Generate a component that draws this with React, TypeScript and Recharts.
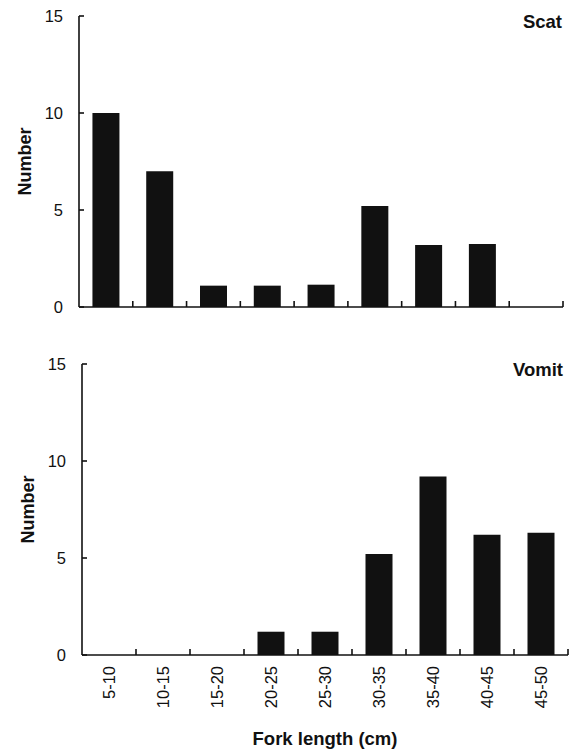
import React from 'react';
import { BarChart, Bar, XAxis, YAxis, Label } from 'recharts';

const categories = ['5-10', '10-15', '15-20', '20-25', '25-30', '30-35', '35-40', '40-45', '45-50'];
const scatCounts = [10, 7, 1.1, 1.1, 1.15, 5.2, 3.2, 3.25, 0];
const vomitCounts = [0, 0, 0, 1.2, 1.2, 5.2, 9.2, 6.2, 6.3];
const yTicks = [0, 5, 10, 15];

const INK = '#111';
const FONT = '"Liberation Sans", Arial, Helvetica, sans-serif';

const scatData = categories.map((name, i) => ({ name, value: scatCounts[i] }));
const vomitData = categories.map((name, i) => ({ name, value: vomitCounts[i] }));

// y ticks: short mark pointing into the plot, label to the left
const YTick = (props: any) => {
    const { x, y, payload } = props;
    return (
        <g>
            <line x1={x} x2={x + 5} y1={y} y2={y} stroke={INK} strokeWidth={1.6} />
            <text x={x - 16} y={y} dy="0.36em" textAnchor="end" fontSize={16.5} fontFamily={FONT} fill={INK}>
                {payload.value}
            </text>
        </g>
    );
};

// x ticks: mark on the boundary after each category, optional rotated label
const makeXTick = (showLabel: boolean) => (props: any) => {
    const { x, y, payload } = props;
    const half = payload && payload.offset ? payload.offset : 27;
    const ly = y + 11;
    return (
        <g>
            <line x1={x + half} x2={x + half} y1={y} y2={y - 6} stroke={INK} strokeWidth={1.6} />
            {showLabel && (
                <text
                    x={x}
                    y={ly}
                    dy="0.36em"
                    textAnchor="end"
                    transform={`rotate(-90, ${x}, ${ly})`}
                    fontSize={16.5}
                    fontFamily={FONT}
                    fill={INK}
                >
                    {payload.value}
                </text>
            )}
        </g>
    );
};

const NumberLabel = (props: any) => {
    const vb = props.viewBox || { x: 0, y: 0, height: 0 };
    const cx = vb.x + 6;
    const cy = vb.y + vb.height / 2;
    return (
        <text
            x={cx}
            y={cy}
            transform={`rotate(-90, ${cx}, ${cy})`}
            textAnchor="middle"
            dominantBaseline="central"
            fontSize={18}
            fontWeight="bold"
            fontFamily={FONT}
            fill={INK}
        >
            Number
        </text>
    );
};

const App: React.FC = () => {
    return (
        <div style={{ position: 'absolute', left: 0, top: 0, width: 572, height: 754, background: '#fff' }}>
            <div style={{ position: 'absolute', left: 0, top: 0 }}>
                <BarChart
                    width={572}
                    height={320}
                    data={scatData}
                    margin={{ top: 16, right: 9, left: 19, bottom: 0 }}
                    barCategoryGap="25%"
                >
                    <XAxis
                        dataKey="name"
                        height={13}
                        tickSize={0}
                        tickMargin={0}
                        tickLine={false}
                        axisLine={{ stroke: INK, strokeWidth: 1.6 }}
                        interval={0}
                        tick={makeXTick(false)}
                    />
                    <YAxis
                        width={60}
                        type="number"
                        domain={[0, 15]}
                        ticks={yTicks}
                        tickSize={0}
                        tickMargin={0}
                        tickLine={false}
                        axisLine={{ stroke: INK, strokeWidth: 1.6 }}
                        tick={YTick}
                    >
                        <Label content={NumberLabel} />
                    </YAxis>
                    <Bar dataKey="value" fill={INK} isAnimationActive={false} />
                    <text x={562} y={28} textAnchor="end" fontSize={18.5} fontWeight="bold" fontFamily={FONT} fill={INK}>
                        Scat
                    </text>
                </BarChart>
            </div>
            <div style={{ position: 'absolute', left: 0, top: 330 }}>
                <BarChart
                    width={572}
                    height={424}
                    data={vomitData}
                    margin={{ top: 34, right: 4, left: 22, bottom: 0 }}
                    barCategoryGap="25%"
                >
                    <XAxis
                        dataKey="name"
                        height={99}
                        tickSize={0}
                        tickMargin={0}
                        tickLine={false}
                        axisLine={{ stroke: INK, strokeWidth: 1.6 }}
                        interval={0}
                        tick={makeXTick(true)}
                    >
                        <Label
                            value="Fork length (cm)"
                            position="insideBottom"
                            offset={9}
                            fontSize={18.5}
                            fontWeight="bold"
                            fontFamily={FONT}
                            fill={INK}
                        />
                    </XAxis>
                    <YAxis
                        width={60}
                        type="number"
                        domain={[0, 15]}
                        ticks={yTicks}
                        tickSize={0}
                        tickMargin={0}
                        tickLine={false}
                        axisLine={{ stroke: INK, strokeWidth: 1.6 }}
                        tick={YTick}
                    >
                        <Label content={NumberLabel} />
                    </YAxis>
                    <Bar dataKey="value" fill={INK} isAnimationActive={false} />
                    <text x={563} y={46} textAnchor="end" fontSize={18.5} fontWeight="bold" fontFamily={FONT} fill={INK}>
                        Vomit
                    </text>
                </BarChart>
            </div>
        </div>
    );
};

export default App;
